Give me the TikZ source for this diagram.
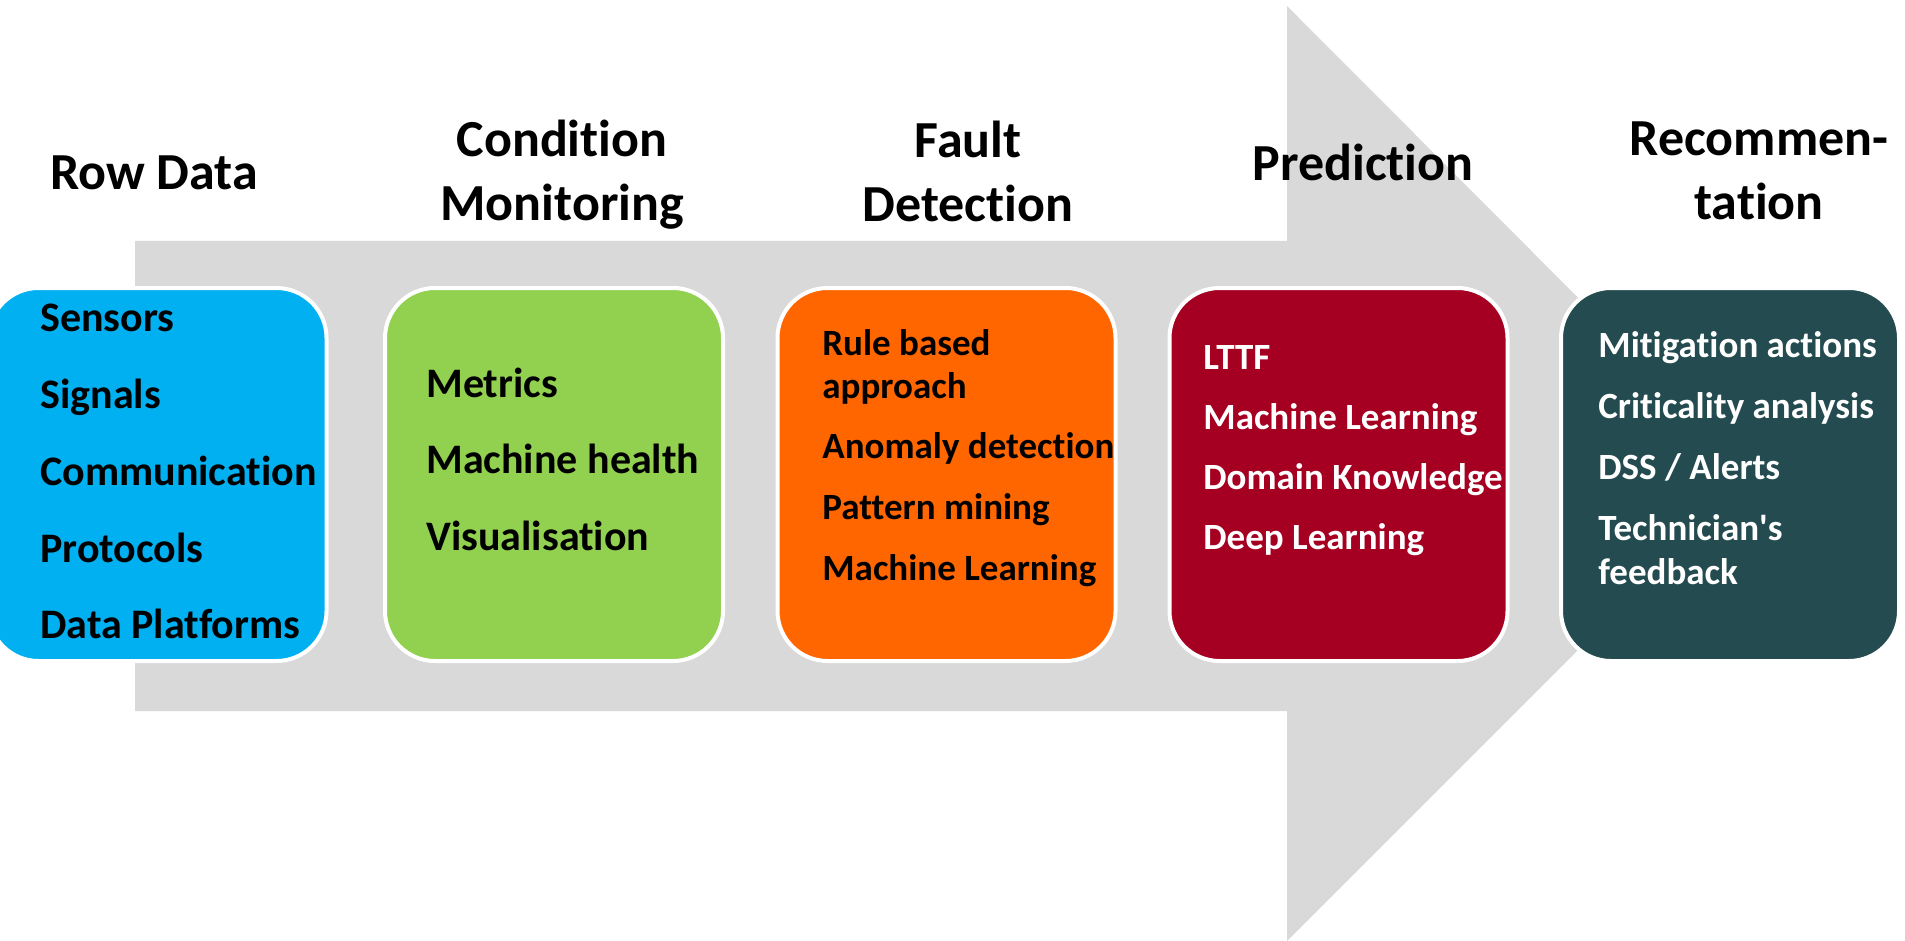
\documentclass[tikz,border=0pt]{standalone}
\usepackage{fontspec}
\setmainfont{Carlito}[Ligatures={NoCommon,NoContextual}, RawFeature={-liga;-clig;-calt;-dlig}]
\definecolor{arrowgray}{HTML}{D9D9D9}
\definecolor{rawblue}{HTML}{00B0F0}
\definecolor{condgreen}{HTML}{92D050}
\definecolor{faultorange}{HTML}{FF6600}
\definecolor{predred}{HTML}{A50021}
\definecolor{recteal}{HTML}{244B50}
\begin{document}
\begin{tikzpicture}[x=0.5pt,y=-0.5pt,
  stage/.style={draw=white, line width=2pt, rounded corners=25pt,
    minimum width=169pt, minimum height=186.5pt, inner sep=0pt},
  item/.style={anchor=base west, inner sep=0pt, font=\bfseries\fontsize{18.5}{22}\selectfont},
  bigitem/.style={anchor=base west, inner sep=0pt, font=\bfseries\fontsize{21}{25}\selectfont},
  head/.style={align=center, inner sep=0pt, font=\bfseries\fontsize{26}{32}\selectfont}]
\useasboundingbox (0,0) rectangle (1905,941);
% big arrow
\fill[arrowgray] (135,241) -- (1287,241) -- (1287,6) -- (1754,474) -- (1287,941)
  -- (1287,711) -- (135,711) -- cycle;
% stage boxes
\node[stage, fill=rawblue] (raw) at (157.5,474.5) {};
\node[stage, fill=condgreen] (cond) at (554,474.5) {};
\node[stage, fill=faultorange] (fault) at (946.5,474.5) {};
\node[stage, fill=predred] (pred) at (1338.5,474.5) {};
\node[stage, fill=recteal] (rec) at (1730,474.5) {};
% headings
\node[head] (hraw) at (154,172.5) {Row Data};
\node[head] (hcond) at (562,175) {Condition\\Monitoring};
\node[head] (hfault) at (968,171) {Fault\\Detection};
\node[head] (hpred) at (1363,162) {Prediction};
\node[head] (hrec) at (1759,171) {Recommen-\\tation};
% raw data items
\node[bigitem] (r1) at (40,331) {Sensors};
\node[bigitem] (r2) at (40,408) {Signals};
\node[bigitem] (r3) at (40,485) {Communication};
\node[bigitem] (r4) at (40,562) {Protocols};
\node[bigitem] (r5) at (40,638) {Data Platforms};
% condition monitoring items
\node[bigitem] (c1) at (426,397) {Metrics};
\node[bigitem] (c2) at (426,473) {Machine health};
\node[bigitem] (c3) at (426,550) {Visualisation};
% fault detection items
\node[item] (f1a) at (822,355) {Rule based};
\node[item] (f1b) at (822,398) {approach};
\node[item] (f2) at (822,458) {Anomaly detection};
\node[item] (f3) at (822,519) {Pattern mining};
\node[item] (f4) at (822,580) {Machine Learning};
% prediction items
\node[item, text=white] (p1) at (1203,369) {LTTF};
\node[item, text=white] (p2) at (1203,429) {Machine Learning};
\node[item, text=white] (p3) at (1203,489) {Domain Knowledge};
\node[item, text=white] (p4) at (1203,549) {Deep Learning};
% recommendation items
\node[item, text=white] (m1) at (1598,357) {Mitigation actions};
\node[item, text=white] (m2) at (1598,418) {Criticality analysis};
\node[item, text=white] (m3) at (1598,479) {DSS / Alerts};
\node[item, text=white] (m4a) at (1598,540) {Technician\textquotesingle s};
\node[item, text=white] (m4b) at (1598,584) {feedback};
\end{tikzpicture}
\end{document}
